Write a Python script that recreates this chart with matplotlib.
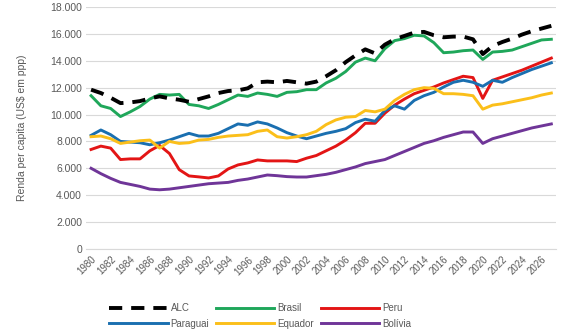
import numpy as np
import matplotlib
matplotlib.use("Agg")
from matplotlib import pyplot as plt
from matplotlib.ticker import FuncFormatter

years = list(range(1980, 2028))

alc = [11.85, 11.6, 11.25, 10.85, 10.9, 11.0, 11.2, 11.35, 11.2, 11.1,
       10.95, 11.15, 11.35, 11.6, 11.75, 11.8, 11.95, 12.4, 12.45, 12.4,
       12.5, 12.4, 12.3, 12.45, 12.85, 13.3, 13.9, 14.4, 14.85, 14.55,
       15.2, 15.6, 15.85, 16.1, 16.15, 15.9, 15.75, 15.8, 15.8, 15.6,
       14.5, 15.1, 15.4, 15.65, 15.95, 16.2, 16.4, 16.6]
brasil = [11.4, 10.65, 10.45, 9.85, 10.2, 10.6, 11.15, 11.5, 11.45, 11.5,
          10.75, 10.65, 10.45, 10.75, 11.1, 11.45, 11.35, 11.6, 11.5, 11.35,
          11.65, 11.7, 11.85, 11.85, 12.35, 12.7, 13.2, 13.9, 14.2, 14.0,
          14.9, 15.5, 15.65, 15.9, 15.85, 15.35, 14.6, 14.65, 14.75, 14.8,
          14.1, 14.65, 14.7, 14.8, 15.05, 15.3, 15.55, 15.6]
peru = [7.4, 7.65, 7.5, 6.65, 6.7, 6.7, 7.3, 7.7, 7.1, 5.9,
        5.43, 5.36, 5.28, 5.43, 5.95, 6.25, 6.4, 6.62, 6.55, 6.55,
        6.55, 6.5, 6.75, 6.95, 7.3, 7.65, 8.1, 8.65, 9.35, 9.35,
        10.1, 10.7, 11.15, 11.55, 11.8, 12.05, 12.35, 12.6, 12.85, 12.75,
        11.2, 12.55, 12.8, 13.05, 13.3, 13.6, 13.9, 14.2]
paraguai = [8.45, 8.85, 8.5, 8.0, 7.95, 7.9, 7.75, 7.9, 8.1, 8.35,
            8.6, 8.4, 8.4, 8.6, 8.95, 9.3, 9.2, 9.45, 9.3, 9.0,
            8.65, 8.4, 8.2, 8.4, 8.6, 8.75, 8.95, 9.4, 9.65, 9.5,
            10.3, 10.65, 10.4, 11.05, 11.4, 11.65, 12.05, 12.4, 12.55, 12.4,
            12.1, 12.55, 12.4, 12.75, 13.05, 13.35, 13.6, 13.85]
equador = [8.35, 8.4, 8.2, 7.85, 7.95, 8.05, 8.1, 7.5, 8.0, 7.85,
           7.9, 8.1, 8.15, 8.3, 8.4, 8.45, 8.5, 8.75, 8.85, 8.35,
           8.25, 8.35, 8.5, 8.75, 9.25, 9.6, 9.8, 9.85, 10.3, 10.2,
           10.4, 11.05, 11.5, 11.85, 12.0, 11.95, 11.55, 11.55, 11.5, 11.4,
           10.4, 10.7, 10.8, 10.95, 11.1, 11.25, 11.45, 11.6]
bolivia = [6.0, 5.6, 5.25, 4.95, 4.8, 4.65, 4.45, 4.4, 4.45, 4.55,
           4.65, 4.75, 4.85, 4.9, 4.95, 5.1, 5.2, 5.35, 5.5, 5.45,
           5.38, 5.35, 5.35, 5.45, 5.55, 5.7, 5.9, 6.1, 6.35, 6.5,
           6.65, 6.95, 7.25, 7.55, 7.85, 8.05, 8.3, 8.5, 8.7, 8.7,
           7.85, 8.2, 8.4, 8.6, 8.8, 9.0, 9.15, 9.3]

plt.rcParams['font.family'] = ['Liberation Sans', 'DejaVu Sans']

fig = plt.figure(figsize=(5.67, 3.35), dpi=100)
ax = fig.add_axes([0.152, 0.257, 0.829, 0.722])

x = np.array(years)
lw = 2.1
l_alc, = ax.plot(x, np.array(alc) * 1000, color='black', lw=2.8,
                 dashes=(3.4, 2.3), label='ALC', zorder=5)
l_bra, = ax.plot(x, np.array(brasil) * 1000, color='#1fa75a', lw=lw, label='Brasil')
l_per, = ax.plot(x, np.array(peru) * 1000, color='#e31515', lw=lw, label='Peru')
l_par, = ax.plot(x, np.array(paraguai) * 1000, color='#1a6fb0', lw=lw, label='Paraguai')
l_equ, = ax.plot(x, np.array(equador) * 1000, color='#fbbf1a', lw=lw, label='Equador')
l_bol, = ax.plot(x, np.array(bolivia) * 1000, color='#6f3598', lw=lw, label='Bolívia')

ax.set_xlim(1979.5, 2027.5)
ax.set_ylim(0, 18000)
ax.set_yticks(range(0, 18001, 2000))
ax.yaxis.set_major_formatter(FuncFormatter(lambda v, p: f"{int(v):,}".replace(',', '.')))
ticks = list(range(1980, 2027, 2))
ax.set_xticks(ticks)
ax.set_xticklabels([str(t) for t in ticks], rotation=45, ha='right',
                   rotation_mode='anchor')
ax.tick_params(length=0, labelsize=7, colors='#595959')
ax.tick_params(axis='x', pad=4)
ax.tick_params(axis='y', labelsize=7.5, pad=3)
ax.grid(axis='y', color='#d9d9d9', lw=0.8)
ax.set_axisbelow(True)
for s in ['top', 'right', 'left']:
    ax.spines[s].set_visible(False)
ax.spines['bottom'].set_color('#d9d9d9')
ax.spines['bottom'].set_linewidth(0.8)

ax.set_ylabel('Renda per capita (US$ em ppp)', fontsize=7.5, color='#595959', labelpad=17)

handles = [l_alc, l_par, l_bra, l_equ, l_per, l_bol]
fig.legend(handles=handles, labels=[h.get_label() for h in handles], ncol=3,
           loc='center', bbox_to_anchor=(0.459, 0.057), frameon=False,
           fontsize=7, handlelength=6, handletextpad=0.3, columnspacing=0.7,
           labelspacing=0.6, labelcolor='#595959')

fig.savefig('out.png', dpi=100)
